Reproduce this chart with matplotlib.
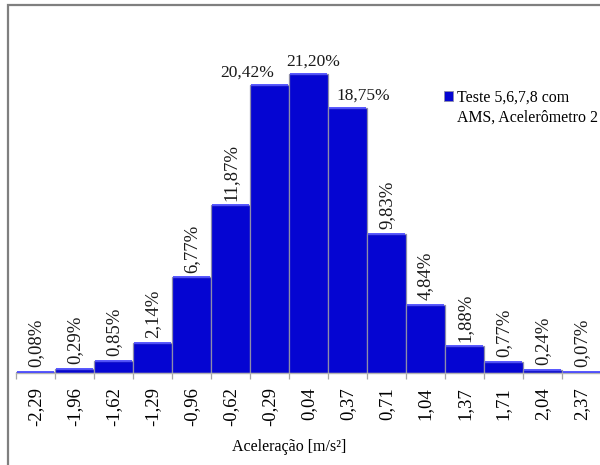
import matplotlib
matplotlib.use("Agg")
import matplotlib.pyplot as plt
from matplotlib.patches import Rectangle

# Acceleration classes (bin centres, m/s²) and relative frequency of each bin (%)
categories = ["-2,29", "-1,96", "-1,62", "-1,29", "-0,96", "-0,62", "-0,29", "0,04",
              "0,37", "0,71", "1,04", "1,37", "1,71", "2,04", "2,37"]
frequencies = [0.08, 0.29, 0.85, 2.14, 6.77, 11.87, 20.42, 21.20,
               18.75, 9.83, 4.84, 1.88, 0.77, 0.24, 0.07]
series_name = "Teste 5,6,7,8 com\nAMS, Acelerômetro 2"
x_title = "Aceleração [m/s²]"

W, H = 600, 465
fig = plt.figure(figsize=(W / 100, H / 100), dpi=100)
plt.rcParams["font.family"] = ["Liberation Serif", "DejaVu Serif"]

def px(x, y):
    """pixel position (from top-left) -> figure fraction"""
    return x / W, 1 - y / H

# chart-area frame
fig.add_artist(Rectangle(px(8, 620), 700 / W, 615 / H, transform=fig.transFigure,
                         fill=False, edgecolor="#7f7f7f", linewidth=1.6))

left, right, base, top = 16, 601, 373, 20
ax = fig.add_axes([left / W, 1 - base / H, (right - left) / W, (base - top) / H])

xs = list(range(len(categories)))
bar_color = "#0505D2"
bars = ax.bar(xs, frequencies, width=1.0, color=bar_color,
              edgecolor="#8d8daa", linewidth=0.9, zorder=2)
# light rim on top of every bar
ax.hlines(frequencies, [x - 0.47 for x in xs], [x + 0.47 for x in xs],
          color="#4a4aff", linewidth=1.3, zorder=3)

ax.set_xlim(-0.5, len(categories) - 0.5)
ax.set_ylim(0, 25)

# value labels
horizontal = {6: -16, 7: 3.5, 8: 11.5}
for x, v in zip(xs, frequencies):
    txt = f"{v:.2f}".replace(".", ",") + "%"
    if x in horizontal:
        ax.annotate(txt, (x, v), xytext=(horizontal[x], 3), textcoords="offset points",
                    ha="center", va="bottom", fontsize=12.5, color="#1a1a1a")
    else:
        ax.annotate(txt, (x, v), xytext=(0, 3.5), textcoords="offset points",
                    ha="center", va="bottom", rotation=90, fontsize=13.5,
                    color="#1a1a1a")

# category axis: tick marks between bins, labels under bins
ax.set_xticks([x - 0.5 for x in range(len(categories) + 1)])
ax.set_xticklabels([])
ax.tick_params(axis="x", which="major", length=4, width=0.9, color="#a6a6a6",
               direction="out")
ax.set_xticks(xs, minor=True)
ax.set_xticklabels(categories, minor=True, rotation=90, fontsize=13.5,
                   va="top", ha="center")
ax.tick_params(axis="x", which="minor", length=0, pad=10)
ax.set_yticks([])
for s in ("left", "right", "top"):
    ax.spines[s].set_visible(False)
ax.spines["bottom"].set_color("#b3b3b3")
ax.spines["bottom"].set_linewidth(1.0)
ax.patch.set_alpha(0)

fig.text(*px(289, 447), x_title, ha="center", va="center", fontsize=11.5)

# legend key
fig.add_artist(Rectangle(px(444, 101), 9 / W, 10 / H, transform=fig.transFigure,
                         facecolor=bar_color, edgecolor="#8d8daa", linewidth=0.6))
fig.text(*px(457, 107.5), series_name, ha="left", va="center", fontsize=11.4,
         linespacing=1.35)

fig.savefig("out.png", dpi=100)
